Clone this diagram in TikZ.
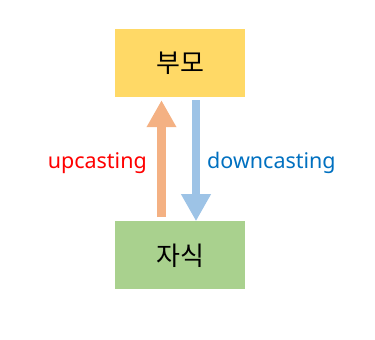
\documentclass[tikz,border=0pt]{standalone}
\usepackage{fontspec}
\setmainfont{Noto Sans}
\newfontfamily\kofont{Noto Sans CJK KR}
\usetikzlibrary{arrows.meta,positioning}
\definecolor{parentyellow}{HTML}{FFD966}
\definecolor{childgreen}{HTML}{A9D18E}
\definecolor{uporange}{HTML}{F4B183}
\definecolor{downblue}{HTML}{9DC3E6}
\definecolor{downtext}{HTML}{0070C0}
\begin{document}
\begin{tikzpicture}[x=1pt, y=1pt,
  every node/.style={font=\small},
  cls/.style={minimum width=130pt, minimum height=68pt, inner sep=0pt,
    font=\kofont\fontsize{26}{30}\selectfont},
  cast/.style={line width=8.5pt, -{Triangle[width=28pt,length=27pt]}},
  lbl/.style={inner sep=0pt, font=\fontsize{21.5}{25}\selectfont},
]
\useasboundingbox (0,0) rectangle (375,-340);
% classes
\node[cls, fill=parentyellow] (parent) at (180,-63) {부모};
\node[cls, fill=childgreen, below=124pt of parent] (child) {자식};
% casting arrows
\draw[cast, uporange, shorten <=4pt, shorten >=3pt]
  ([xshift=-18.5pt]child.north) -- ([xshift=-18.5pt]parent.south);
\draw[cast, downblue, shorten <=3pt]
  ([xshift=16pt]parent.south) -- ([xshift=16pt]child.north);
% labels
\node[lbl, text=red, anchor=east] (up) at (147,-163) {upcasting};
\node[lbl, text=downtext, anchor=west] (down) at (207,-163) {downcasting};
\end{tikzpicture}
\end{document}
